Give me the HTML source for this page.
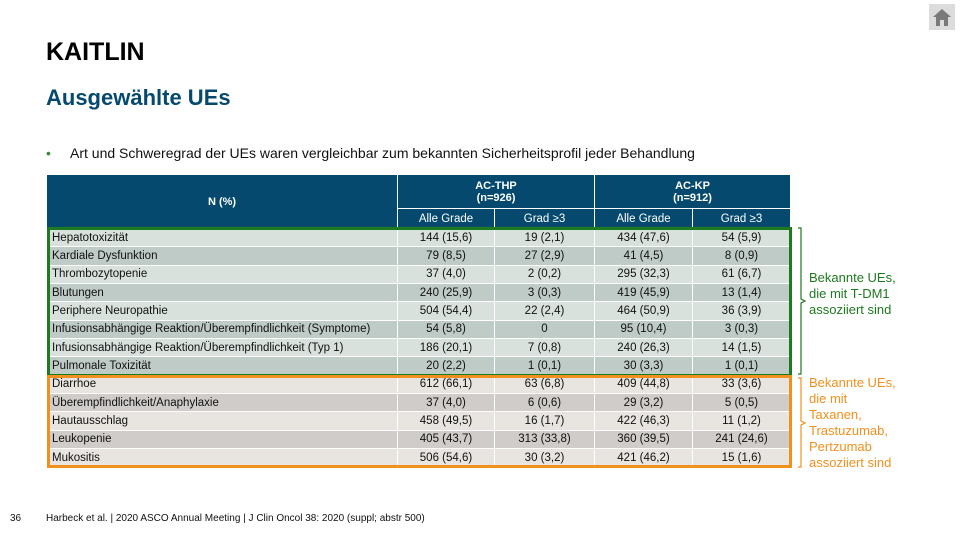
<!DOCTYPE html>
<html><head><meta charset="utf-8"><style>
body{margin:0;width:960px;height:540px;overflow:hidden;background:#fff;font-family:"Liberation Sans",Arial,sans-serif;position:relative}
.abs{position:absolute}
table{position:absolute;left:46px;top:174px;border-collapse:collapse;font-size:11.5px;color:#111}
td,th{padding:0;border:1px solid #fff;height:17.35px;text-align:center;white-space:nowrap}
th{background:#054a6e;color:#fff;font-weight:bold;font-size:11px}
.sub th{font-weight:normal;font-size:11.5px;height:19px}
td.n{text-align:left;padding-left:5px}
tr.g1 td{background:#d9e1dd}tr.g2 td{background:#bfcbc7}
tr.o1 td{background:#e8e4df}tr.o2 td{background:#cfccc9}
.box{box-sizing:border-box}
</style></head><body>
<div class="abs" style="left:929px;top:4px;width:26px;height:26px;background:#dcdcdc">
<svg width="26" height="26"><polygon points="4,13 13,5 22,13" fill="#7a7a7a"/><rect x="7" y="13" width="12" height="9" fill="#7a7a7a"/><rect x="11" y="16" width="4" height="6" fill="#dcdcdc"/></svg></div>
<div class="abs" style="left:46px;top:38px;font-size:25px;font-weight:bold;color:#000">KAITLIN</div>
<div class="abs" style="left:46px;top:85px;font-size:22px;font-weight:bold;color:#054a6e">Ausgewählte UEs</div>
<div class="abs" style="left:46px;top:145px;font-size:14px;color:#3a8a3a">•</div>
<div class="abs" style="left:70px;top:145px;font-size:14px;color:#111">Art und Schweregrad der UEs waren vergleichbar zum bekannten Sicherheitsprofil jeder Behandlung</div>
<table>
<tr style="height:34px"><th rowspan="2" style="width:350px">N (%)</th><th colspan="2">AC-THP<br>(n=926)</th><th colspan="2">AC-KP<br>(n=912)</th></tr>
<tr class="sub"><th style="width:96px">Alle Grade</th><th style="width:99px">Grad ≥3</th><th style="width:97px">Alle Grade</th><th style="width:97px">Grad ≥3</th></tr>
<tr class="g1"><td class="n">Hepatotoxizität</td><td>144 (15,6)</td><td>19 (2,1)</td><td>434 (47,6)</td><td>54 (5,9)</td></tr>
<tr class="g2"><td class="n">Kardiale Dysfunktion</td><td>79 (8,5)</td><td>27 (2,9)</td><td>41 (4,5)</td><td>8 (0,9)</td></tr>
<tr class="g1"><td class="n">Thrombozytopenie</td><td>37 (4,0)</td><td>2 (0,2)</td><td>295 (32,3)</td><td>61 (6,7)</td></tr>
<tr class="g2"><td class="n">Blutungen</td><td>240 (25,9)</td><td>3 (0,3)</td><td>419 (45,9)</td><td>13 (1,4)</td></tr>
<tr class="g1"><td class="n">Periphere Neuropathie</td><td>504 (54,4)</td><td>22 (2,4)</td><td>464 (50,9)</td><td>36 (3,9)</td></tr>
<tr class="g2"><td class="n">Infusionsabhängige Reaktion/Überempfindlichkeit (Symptome)</td><td>54 (5,8)</td><td>0</td><td>95 (10,4)</td><td>3 (0,3)</td></tr>
<tr class="g1"><td class="n">Infusionsabhängige Reaktion/Überempfindlichkeit (Typ 1)</td><td>186 (20,1)</td><td>7 (0,8)</td><td>240 (26,3)</td><td>14 (1,5)</td></tr>
<tr class="g2"><td class="n">Pulmonale Toxizität</td><td>20 (2,2)</td><td>1 (0,1)</td><td>30 (3,3)</td><td>1 (0,1)</td></tr>
<tr class="o1"><td class="n">Diarrhoe</td><td>612 (66,1)</td><td>63 (6,8)</td><td>409 (44,8)</td><td>33 (3,6)</td></tr>
<tr class="o2"><td class="n">Überempfindlichkeit/Anaphylaxie</td><td>37 (4,0)</td><td>6 (0,6)</td><td>29 (3,2)</td><td>5 (0,5)</td></tr>
<tr class="o1"><td class="n">Hautausschlag</td><td>458 (49,5)</td><td>16 (1,7)</td><td>422 (46,3)</td><td>11 (1,2)</td></tr>
<tr class="o2"><td class="n">Leukopenie</td><td>405 (43,7)</td><td>313 (33,8)</td><td>360 (39,5)</td><td>241 (24,6)</td></tr>
<tr class="o1"><td class="n">Mukositis</td><td>506 (54,6)</td><td>30 (3,2)</td><td>421 (46,2)</td><td>15 (1,6)</td></tr>
</table>
<div class="abs box" style="left:47px;top:227px;width:745px;height:150px;border:3px solid #1e7a1e"></div>
<div class="abs box" style="left:47px;top:375px;width:745px;height:93px;border:3px solid #f0901e"></div>
<svg class="abs" style="left:796px;top:226px" width="14" height="244">
<path d="M2,2 H5 V73 L9,75 L5,77 V148 H2" fill="none" stroke="#1e7a1e" stroke-width="1.2"/>
<path d="M2,152 H5 V195 L9,197 L5,199 V241 H2" fill="none" stroke="#f0901e" stroke-width="1.2"/>
</svg>
<div class="abs" style="left:809px;top:270px;font-size:13px;line-height:16px;color:#1e7a1e">Bekannte UEs,<br>die mit T-DM1<br>assoziiert sind</div>
<div class="abs" style="left:809px;top:375px;font-size:13px;line-height:16px;color:#f0901e">Bekannte UEs,<br>die mit<br>Taxanen,<br>Trastuzumab,<br>Pertzumab<br>assoziiert sind</div>
<div class="abs" style="left:10px;top:513px;font-size:10px;color:#111">36</div>
<div class="abs" style="left:46px;top:513px;font-size:10px;color:#111">Harbeck et al. | 2020 ASCO Annual Meeting | J Clin Oncol 38: 2020 (suppl; abstr 500)</div>
</body></html>
